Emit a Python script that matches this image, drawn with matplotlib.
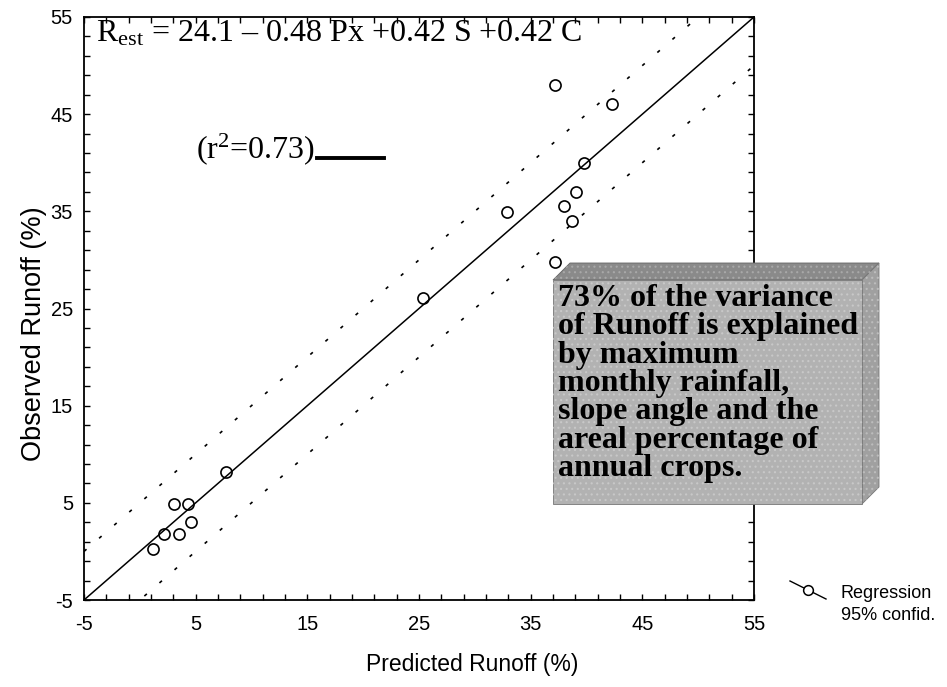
import numpy as np
import matplotlib
matplotlib.use('Agg')
import matplotlib.pyplot as plt
from matplotlib.patches import Polygon
from matplotlib.lines import Line2D
from matplotlib.ticker import FixedLocator

plt.rcParams['mathtext.fontset'] = 'custom'
plt.rcParams['mathtext.rm'] = 'Liberation Serif'
plt.rcParams['mathtext.it'] = 'Liberation Serif:italic'
plt.rcParams['axes.unicode_minus'] = False
plt.rcParams['hatch.linewidth'] = 0.8

SANS = ['Liberation Sans', 'DejaVu Sans']
SERIF = ['Liberation Serif', 'DejaVu Serif']

# data
predicted = [1.2, 2.2, 3.5, 3.1, 4.3, 4.6, 7.7, 25.4, 32.9, 37.2, 37.2, 38.0, 38.7, 39.1, 39.8, 42.3]
observed = [0.3, 1.8, 1.8, 4.9, 4.9, 3.0, 8.2, 26.1, 34.9, 48.0, 29.8, 35.5, 34.0, 37.0, 40.0, 46.0]
fit_x = [-5, 55]
conf_offset = 5.0
ticks = [-5, 5, 15, 25, 35, 45, 55]

box_lines = ["73% of the variance",
             "of Runoff is explained",
             "by maximum",
             "monthly rainfall,",
             "slope angle and the",
             "areal percentage of",
             "annual crops."]

fig = plt.figure(figsize=(9.47, 6.87), dpi=100)
W, H = 947, 687
ax = fig.add_axes([84 / W, 1 - 600 / H, 670 / W, 583 / H])

# regression + confidence lines
fx = np.array(fit_x, dtype=float)
ax.plot(fx, fx, color='black', lw=1.1)
ax.plot(fx, fx + conf_offset, color='black', lw=1.2, ls=(0, (2, 10)))
ax.plot(fx, fx - conf_offset, color='black', lw=1.2, ls=(0, (2, 10)))
ax.plot(predicted, observed, 'o', mfc='none', mec='black', ms=8, mew=1.2)

ax.set_xlim(-5, 55)
ax.set_ylim(-5, 55)
ax.xaxis.set_major_locator(FixedLocator(ticks))
ax.yaxis.set_major_locator(FixedLocator(ticks))
ax.xaxis.set_minor_locator(FixedLocator(np.arange(-5, 56, 2)))
ax.yaxis.set_minor_locator(FixedLocator(np.arange(-5, 56, 2)))
ax.tick_params(which='both', direction='in', top=True, right=True, length=4, width=1)
ax.tick_params(axis='x', labelsize=14.5, pad=11)
ax.tick_params(axis='y', labelsize=14.5, pad=8)
for lab in ax.get_xticklabels() + ax.get_yticklabels():
    lab.set_family(SANS)
for s in ax.spines.values():
    s.set_linewidth(1.3)

# overlay in pixel coords for annotations
ov = fig.add_axes([0, 0, 1, 1], zorder=5)
ov.set_xlim(0, W)
ov.set_ylim(H, 0)
ov.axis('off')

ov.text(472, 664, 'Predicted Runoff (%)', family=SANS, fontsize=16.5,
        ha='center', va='center')
ov.text(34, 334, 'Observed Runoff (%)', family=SANS, fontsize=19.5,
        ha='center', va='center', rotation=90)

ov.text(96, 42, r'R$_{\rm est}$ = 24.1 – 0.48 Px +0.42 S +0.42 C',
        family=SERIF, fontsize=23, va='baseline', ha='left')
r2 = ov.text(196, 158, r'(r$^2$=0.73)', family=SERIF, fontsize=23,
             va='baseline', ha='left')
fig.canvas.draw()
bb = r2.get_window_extent()
ov.add_line(Line2D([bb.x1 + 2, bb.x1 + 69], [158, 158], color='black', lw=2.8))

# 3D grey box
fl, fr, ft, fb = 553, 862, 280, 504
d = 17
top = [(fl, ft), (fl + d, ft - d), (fr + d, ft - d), (fr, ft)]
side = [(fr, ft), (fr + d, ft - d), (fr + d, fb - d), (fr, fb)]
face = [(fl, ft), (fr, ft), (fr, fb), (fl, fb)]
ov.add_patch(Polygon(top, closed=True, fc='#8a8a8a', ec='#666666', lw=0.6))
ov.add_patch(Polygon(side, closed=True, fc='#a0a0a0', ec='#777777', lw=0.6))
ov.add_patch(Polygon(face, closed=True, fc='#b2b2b2', ec='#777777', lw=0.6))
for pts, c in [(top, '#a8a8a8'), (side, '#bcbcbc'), (face, '#c8c8c8')]:
    ov.add_patch(Polygon(pts, closed=True, fc='none', ec=c, lw=0, hatch='...'))
ov.text(fl + 5, ft + 4, "\n".join(box_lines), family=SERIF, weight='bold',
        fontsize=23, va='top', ha='left', linespacing=0.97)

# legend
ov.add_line(Line2D([790, 826], [581, 599], color='black', lw=1.0))
ov.plot([808], [590], 'o', mfc='white', mec='black', ms=7, mew=1.1)
ov.text(841, 594, 'Regression', family=SANS, fontsize=13, va='center', ha='left')
ov.text(841, 616, '95% confid.', family=SANS, fontsize=13, va='center', ha='left')

fig.savefig('out.png', dpi=100)
